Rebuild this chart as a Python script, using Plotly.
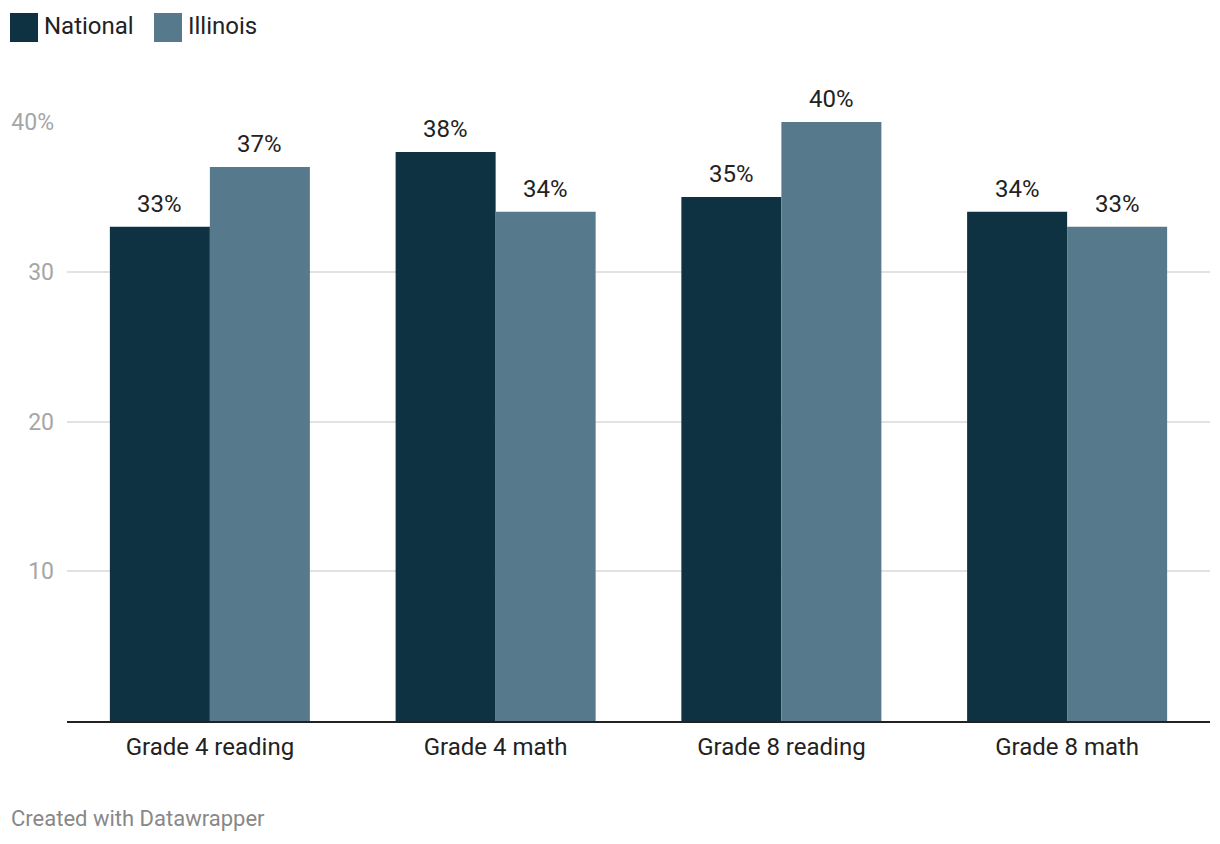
import plotly.graph_objects as go

categories = ["Grade 4 reading", "Grade 4 math", "Grade 8 reading", "Grade 8 math"]
national = [33, 38, 35, 34]
illinois = [37, 34, 40, 33]
series_names = ["National", "Illinois"]
colors = ["#0f3242", "#57798c"]
y_tickvals = [10, 20, 30, 40]
y_ticktext = ["10", "20", "30", "40%"]

FONT = "Roboto"
W, H = 1204, 828
L, R, T, B = 59, 2, 114, 115
PW, PH = W - L - R, H - T - B


def px(x):
    return (x - L) / PW


def py(y):
    return 1 - (y - T) / PH


fig = go.Figure()
for name, vals, col in zip(series_names, [national, illinois], colors):
    fig.add_trace(go.Bar(x=categories, y=vals, name=name, marker=dict(color=col, line=dict(width=0)),
                         showlegend=False, hoverinfo="skip"))

# value labels
for vals, shift in [(national, -50), (illinois, 50)]:
    for c, v in zip(categories, vals):
        fig.add_annotation(x=c, y=v, text=f"{v}%", showarrow=False, xshift=shift, yshift=7,
                           yanchor="bottom", font=dict(family=FONT, size=24, color="#222222"))

# custom legend
legend_x = [2, 146]
for name, col, lx in zip(series_names, colors, legend_x):
    fig.add_shape(type="rect", xref="paper", yref="paper", x0=px(lx), x1=px(lx + 28),
                  y0=py(5), y1=py(34), fillcolor=col, line=dict(width=0), layer="above")
    fig.add_annotation(xref="paper", yref="paper", x=px(lx + 32), y=py(18),
                       xanchor="left", yanchor="middle", showarrow=False, text=name,
                       font=dict(family=FONT, size=24, color="#222222"))

fig.add_annotation(xref="paper", yref="paper", x=px(1), y=py(810),
                   xanchor="left", yanchor="middle", showarrow=False, text="Created with Datawrapper",
                   font=dict(family=FONT, size=22, color="#888888"))

fig.update_layout(
    width=W, height=H,
    margin=dict(l=L, r=R, t=T, b=B),
    paper_bgcolor="white", plot_bgcolor="white",
    barmode="group", bargap=0.3, bargroupgap=0,
    font=dict(family=FONT),
    xaxis=dict(showgrid=False, showline=True, linecolor="#222222", linewidth=2, ticks="",
               tickfont=dict(family=FONT, size=24, color="#222222"), ticklabelstandoff=3),
    yaxis=dict(range=[0, 40], tickvals=y_tickvals, ticktext=y_ticktext, showgrid=True,
               gridcolor="#e2e2e2", gridwidth=1.5, zeroline=False, showline=False, ticks="",
               tickfont=dict(family=FONT, size=23, color="#a6a6a6"), ticklabelstandoff=12),
)

fig.write_html("out.html")
